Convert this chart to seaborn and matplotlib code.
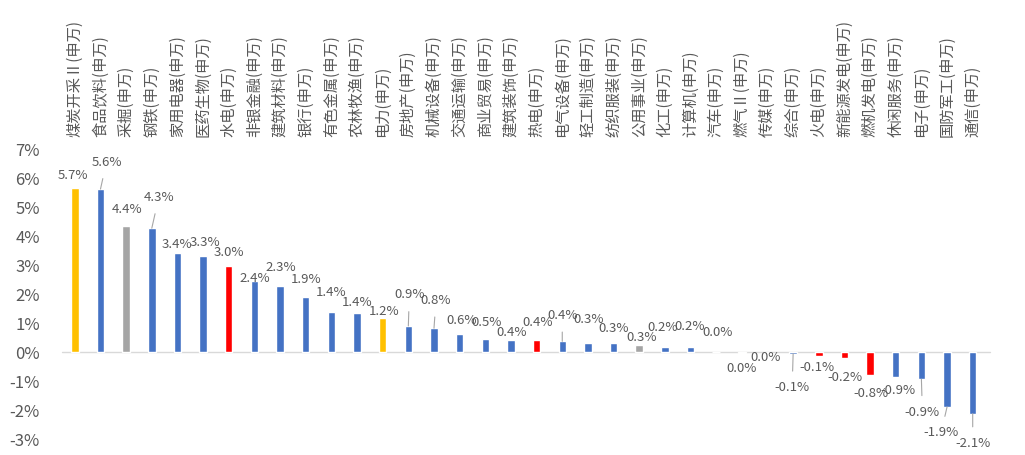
import matplotlib
matplotlib.use("Agg")
import matplotlib.pyplot as plt
import seaborn as sns
import pandas as pd

# Industry returns (%), Shenwan sector indices
industries = [
    "煤炭开采Ⅱ(申万)", "食品饮料(申万)", "采掘(申万)", "钢铁(申万)", "家用电器(申万)",
    "医药生物(申万)", "水电(申万)", "非银金融(申万)", "建筑材料(申万)", "银行(申万)",
    "有色金属(申万)", "农林牧渔(申万)", "电力(申万)", "房地产(申万)", "机械设备(申万)",
    "交通运输(申万)", "商业贸易(申万)", "建筑装饰(申万)", "热电(申万)", "电气设备(申万)",
    "轻工制造(申万)", "纺织服装(申万)", "公用事业(申万)", "化工(申万)", "计算机(申万)",
    "汽车(申万)", "燃气Ⅱ(申万)", "传媒(申万)", "综合(申万)", "火电(申万)",
    "新能源发电(申万)", "燃机发电(申万)", "休闲服务(申万)", "电子(申万)", "国防军工(申万)",
    "通信(申万)",
]
returns = [
    5.66, 5.62, 4.36, 4.27, 3.41,
    3.32, 2.96, 2.44, 2.29, 1.90,
    1.39, 1.36, 1.17, 0.90, 0.82,
    0.61, 0.46, 0.40, 0.40, 0.37,
    0.32, 0.31, 0.26, 0.17, 0.16,
    0.01, -0.03, -0.02, -0.06, -0.13,
    -0.22, -0.78, -0.87, -0.94, -1.89,
    -2.12,
]
# sector group: b = general, c = coal, m = mining, p = power
groups = list("cbmbbbpbbbbbcbbbbbpbbbmbbbcbbpppbbbb")

group_colors = {"b": "#4472C4", "c": "#FFC000", "m": "#A5A5A5", "p": "#FF0000"}
bar_colors = [group_colors[g] for g in groups]

# label placement: distance from bar end (px) and horizontal shift (px)
label_gap = [12, 27, 16, 31, 9, 13, 14, 3, 18, 17, 19, 10, 7, 31, 28, 14, 16, 8,
             18, 26, 23, 15, 7, 20, 21, 19, 16, 5, 34, 12, 19, 19, 13, 33, 26, 30]
label_dx = [-2, 6, 1, 7, 0, 2, 0, 0, 1, 0, 0, 0, 1, 1, 2, 2, 1, 1,
            1, 0, 1, 0, 2, -2, -1, 1, 0, -2, -1, -2, 1, 1, 2, 1, -6, 0]

df = pd.DataFrame({"industry": industries, "ret": returns})

sns.set_theme(style="white")
plt.rcParams["font.family"] = ["Noto Sans CJK SC", "DejaVu Sans"]

fig = plt.figure(figsize=(10.25, 4.55), dpi=100)
ax = fig.add_axes([0.0605, 0.035, 0.901, 0.6375])

sns.barplot(data=df, x="industry", y="ret", hue="industry",
            palette=bar_colors, legend=False, width=0.29, ax=ax,
            saturation=1)

ax.set_ylim(-3, 7)
ax.set_xlim(-0.5, len(industries) - 0.5)
ax.set_yticks(range(-3, 8))
ax.set_yticklabels([f"{t}%" for t in range(-3, 8)])
ax.set_xlabel("")
ax.set_ylabel("")

text_gray = "#595959"
ax.tick_params(axis="y", length=0, pad=16, labelsize=12, labelcolor=text_gray)
ax.xaxis.tick_top()
ax.tick_params(axis="x", length=0, pad=9, labelsize=11, labelcolor=text_gray)
for lab in ax.get_xticklabels():
    lab.set_rotation(90)
    lab.set_va("bottom")
    lab.set_ha("center")

for s in ax.spines.values():
    s.set_visible(False)
ax.axhline(0, color="#D9D9D9", lw=1, xmin=0, xmax=1.005, clip_on=False, zorder=0)


def fmt(v):
    s = f"{v:.1f}"
    if s == "-0.0":
        s = "0.0"
    return s + "%"


for i, v in enumerate(returns):
    sign = 1 if v >= 0 else -1
    gap = label_gap[i]
    lead = gap >= 24
    ax.annotate(
        fmt(v), xy=(i, v), xytext=(label_dx[i], sign * gap),
        textcoords="offset pixels", ha="center", va="center",
        fontsize=9.5, color=text_gray,
        arrowprops=(dict(arrowstyle="-", color="#A6A6A6", lw=0.8,
                         shrinkA=5, shrinkB=0) if lead else None),
    )

fig.savefig("out.png", dpi=100)
